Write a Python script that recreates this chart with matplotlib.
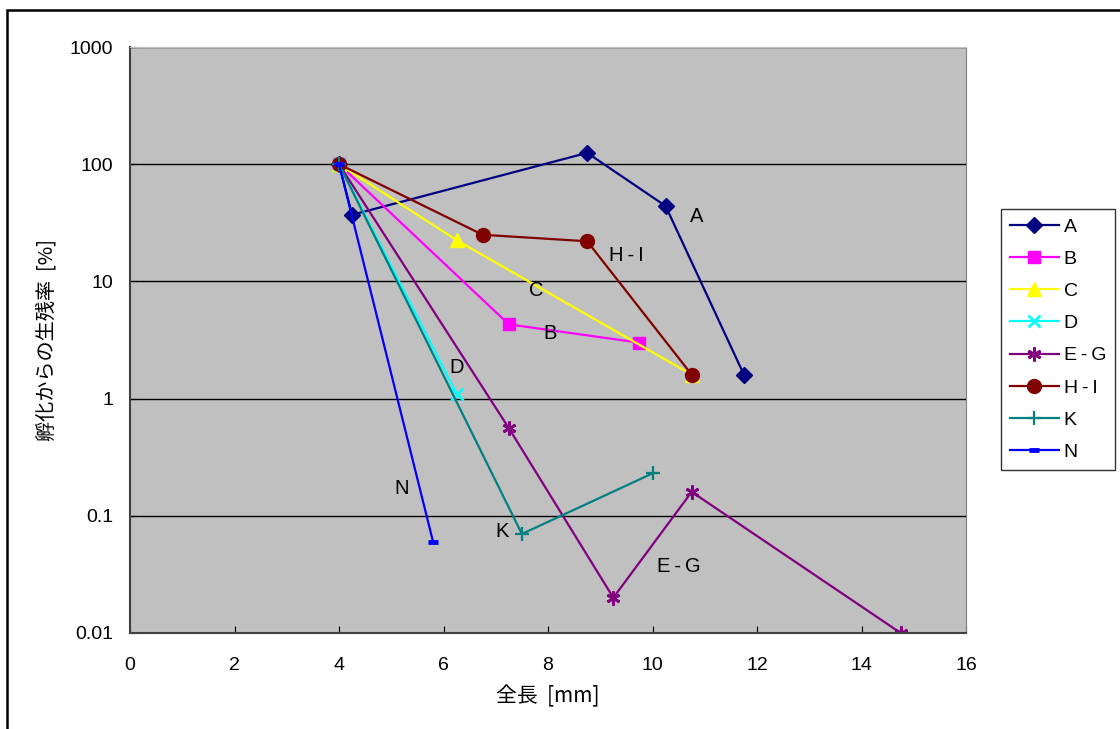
import numpy as np
import matplotlib.pyplot as plt
import matplotlib.patches as patches
from matplotlib.ticker import FuncFormatter

plt.rcParams['font.family'] = ['Liberation Sans', 'Noto Sans CJK JP', 'DejaVu Sans']

# data (x: 全長 mm, y: 生残率 %)
a_x = [4, 4.25, 8.75, 10.25, 11.75]
a_y = [100, 37, 125, 44, 1.6]
b_x = [4, 7.25, 9.75]
b_y = [100, 4.3, 3.0]
c_x = [4, 6.25, 10.75]
c_y = [100, 22.5, 1.6]
d_x = [4, 6.25]
d_y = [100, 1.1]
eg_x = [4, 7.25, 9.25, 10.75, 14.75]
eg_y = [100, 0.56, 0.02, 0.16, 0.01]
hi_x = [4, 6.75, 8.75, 10.75]
hi_y = [100, 25, 22, 1.6]
k_x = [4, 7.5, 10]
k_y = [100, 0.07, 0.23]
n_x = [4, 5.8]
n_y = [100, 0.06]

# series labels written inside the plot
etiketten = ["A", "H\u2009-\u2009I", "C", "B", "D", "N", "K", "E\u2009-\u2009G"]
etikett_x = [10.85, 9.5, 7.77, 8.04, 6.26, 5.19, 7.12, 10.5]
etikett_y = [36, 16.5, 8.3, 3.6, 1.86, 0.17, 0.073, 0.037]

fig = plt.figure(figsize=(11.2, 7.29), dpi=100)
ax = fig.add_axes([0.1161, 0.1317, 0.7464, 0.8038])
ax.set_facecolor('#c0c0c0')

ax.plot(a_x, a_y, color='#000080', lw=1.6, marker='D', ms=8, label='A')
ax.plot(b_x, b_y, color='#ff00ff', lw=1.6, marker='s', ms=9, label='B')
ax.plot(c_x, c_y, color='#ffff00', lw=1.6, marker='^', ms=10, label='C')
ax.plot(d_x, d_y, color='#00ffff', lw=1.6, marker='x', ms=9, mew=2, label='D')
ax.plot(eg_x, eg_y, color='#800080', lw=1.6, marker=(6, 2, 0), ms=10, mew=2, label='E\u2009-\u2009G')
ax.plot(hi_x, hi_y, color='#800000', lw=1.6, marker='o', ms=10, label='H\u2009-\u2009I')
ax.plot(k_x, k_y, color='#008080', lw=1.6, marker='+', ms=10, mew=1.6, label='K')
ax.plot(n_x, n_y, color='#0000ff', lw=1.6, marker='_', ms=7, mew=3.5, label='N')

for t, x, y in zip(etiketten, etikett_x, etikett_y):
    ax.text(x, y, t, fontsize=14.5, ha='center', va='center')

ax.set_yscale('log')
ax.set_xlim(0, 16)
ax.set_ylim(0.01, 1000)
ax.set_xticks(np.arange(0, 17, 2))
ax.set_yticks([0.01, 0.1, 1, 10, 100, 1000])
ax.yaxis.set_major_formatter(FuncFormatter(lambda v, p: f'{v:g}'))
ax.yaxis.set_minor_locator(plt.NullLocator())
ax.tick_params(axis='x', direction='in', length=5, pad=17, labelsize=14)
ax.tick_params(axis='y', direction='in', length=5, pad=12, labelsize=14)
ax.grid(True, axis='y', color='black', lw=1)
ax.set_axisbelow(True)

ax.spines['left'].set_color('#404040')
ax.spines['bottom'].set_color('#404040')
ax.spines['left'].set_linewidth(1.5)
ax.spines['bottom'].set_linewidth(1.5)
ax.spines['top'].set_color('#c0c0c0')
ax.spines['right'].set_color('#808080')

ax.set_xlabel('全長  [mm]', fontsize=15, family=['Noto Sans CJK JP', 'Liberation Sans'], labelpad=8)
ax.set_ylabel('孵化からの生残率  [%]', fontsize=14.5, family=['Noto Sans CJK JP', 'Liberation Sans'], labelpad=9)

leg = ax.legend(loc='upper left', bbox_to_anchor=(0.894, 0.713), bbox_transform=fig.transFigure,
                frameon=True, fancybox=False, edgecolor='black', fontsize=14,
                handlelength=2.5, labelspacing=0.75, borderpad=0.45, handletextpad=0.25,
                borderaxespad=0)
leg.get_frame().set_linewidth(1)

# outer chart frame
rahmen = patches.Rectangle((0.00625, -0.1), 1.2, 0.9863 + 0.1, transform=fig.transFigure,
                           fill=False, lw=1.8, edgecolor='black', clip_on=False)
fig.patches.append(rahmen)

plt.savefig("out.png", dpi=100)
